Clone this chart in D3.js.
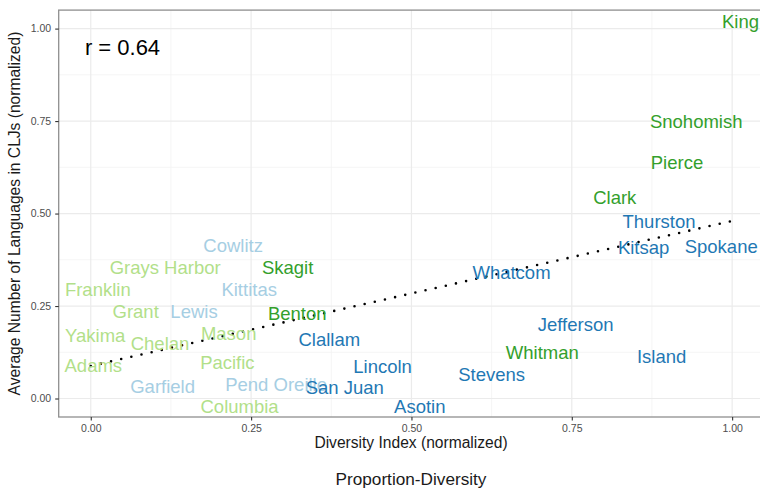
<!DOCTYPE html>
<html>
<head>
<meta charset="utf-8">
<script src="https://cdn.jsdelivr.net/npm/d3@7"></script>
<style>
  html, body { margin: 0; padding: 0; background: #ffffff; }
  svg { display: block; font-family: "Liberation Sans", Arial, sans-serif; }
</style>
</head>
<body>
<svg id="chart" width="760" height="488"></svg>
<script>
// County names, diversity index and average language count (both normalized)
const counties = ["King", "Snohomish", "Pierce", "Clark", "Thurston", "Kitsap", "Spokane",
  "Whatcom", "Cowlitz", "Grays Harbor", "Skagit", "Franklin", "Kittitas", "Grant", "Lewis",
  "Benton", "Yakima", "Mason", "Jefferson", "Clallam", "Chelan", "Whitman", "Island",
  "Adams", "Pacific", "Lincoln", "Stevens", "Garfield", "Pend Oreille", "San Juan",
  "Columbia", "Asotin"];
const diversity = [1.013, 0.944, 0.914, 0.817, 0.886, 0.862, 0.983,
  0.656, 0.222, 0.116, 0.307, 0.011, 0.247, 0.070, 0.161,
  0.322, 0.007, 0.215, 0.756, 0.372, 0.108, 0.704, 0.890,
  0.004, 0.213, 0.455, 0.625, 0.112, 0.289, 0.396,
  0.232, 0.513];
const languages = [1.019, 0.749, 0.638, 0.544, 0.478, 0.408, 0.411,
  0.342, 0.415, 0.354, 0.355, 0.296, 0.296, 0.235, 0.235,
  0.229, 0.171, 0.177, 0.201, 0.159, 0.150, 0.124, 0.115,
  0.090, 0.097, 0.088, 0.065, 0.032, 0.038, 0.029,
  -0.021, -0.022];
// Proportion-diversity class of each county
const groups = ["HH", "HH", "HH", "HH", "LH", "LH", "LH",
  "LH", "LL", "HL", "HH", "HL", "LL", "HL", "LL",
  "HH", "HL", "HL", "LH", "LH", "HL", "HH", "LH",
  "HL", "HL", "LH", "LH", "LL", "LL", "LH",
  "HL", "LH"];
const groupKeys = ["HH", "HL", "LH", "LL"];
const groupColors = ["#33a02c", "#b2df8a", "#1f78b4", "#a6cee3"];

// Linear fit: [x, y] at the two ends
const fitX = [0, 1];
const fitY = [0.088, 0.480];
const corrLabel = "r = 0.64";

const xTicks = [0, 0.25, 0.5, 0.75, 1];
const yTicks = [0, 0.25, 0.5, 0.75, 1];
const xMinor = [0.125, 0.375, 0.625, 0.875];
const yMinor = [0.125, 0.375, 0.625, 0.875];

const svg = d3.select("#chart");
const panel = { left: 58.7, top: 10.1, right: 764.2, bottom: 417 };

const x = d3.scaleLinear().domain([-0.05, 1.05]).range([panel.left, panel.right]);
const y = d3.scaleLinear().domain([-0.05, 1.05]).range([panel.bottom, panel.top]);
const color = d3.scaleOrdinal().domain(groupKeys).range(groupColors);

// Panel background
svg.append("rect")
  .attr("x", panel.left).attr("y", panel.top)
  .attr("width", panel.right - panel.left).attr("height", panel.bottom - panel.top)
  .attr("fill", "#ffffff");

// Grid lines
const grid = svg.append("g");
grid.selectAll(".vminor").data(xMinor).join("line")
  .attr("x1", d => x(d)).attr("x2", d => x(d))
  .attr("y1", panel.top).attr("y2", panel.bottom)
  .attr("stroke", "#f2f2f2").attr("stroke-width", 0.8);
grid.selectAll(".hminor").data(yMinor).join("line")
  .attr("y1", d => y(d)).attr("y2", d => y(d))
  .attr("x1", panel.left).attr("x2", panel.right)
  .attr("stroke", "#f2f2f2").attr("stroke-width", 0.8);
grid.selectAll(".vmajor").data(xTicks).join("line")
  .attr("x1", d => x(d)).attr("x2", d => x(d))
  .attr("y1", panel.top).attr("y2", panel.bottom)
  .attr("stroke", "#ebebeb").attr("stroke-width", 1.2);
grid.selectAll(".hmajor").data(yTicks).join("line")
  .attr("y1", d => y(d)).attr("y2", d => y(d))
  .attr("x1", panel.left).attr("x2", panel.right)
  .attr("stroke", "#ebebeb").attr("stroke-width", 1.2);

// Regression line (dotted)
const fitData = fitX.map((d, i) => [d, fitY[i]]);
svg.append("path")
  .datum(fitData)
  .attr("d", d3.line().x(d => x(d[0])).y(d => y(d[1])))
  .attr("fill", "none")
  .attr("stroke", "#000000")
  .attr("stroke-width", 2.6)
  .attr("stroke-linecap", "round")
  .attr("stroke-dasharray", "0 10.4");

// County labels
const fs = 18.5;
svg.append("g").selectAll("text")
  .data(counties.map((c, i) => ({ name: c, dx: diversity[i], ly: languages[i], g: groups[i] })))
  .join("text")
  .attr("x", d => x(d.dx))
  .attr("y", d => y(d.ly) + fs * 0.358)
  .attr("text-anchor", "middle")
  .attr("font-size", fs)
  .attr("fill", d => color(d.g))
  .text(d => d.name);

// Correlation annotation
svg.append("text")
  .attr("x", 122.5).attr("y", 47.5 + 22 * 0.358)
  .attr("text-anchor", "middle")
  .attr("font-size", 22)
  .attr("fill", "#000000")
  .text(corrLabel);

// Panel border
svg.append("rect")
  .attr("x", panel.left).attr("y", panel.top)
  .attr("width", panel.right - panel.left).attr("height", panel.bottom - panel.top)
  .attr("fill", "none")
  .attr("stroke", "#8f8f8f").attr("stroke-width", 1.3);

// Axes
const xAxis = d3.axisBottom(x).tickValues(xTicks).tickFormat(d3.format(".2f"))
  .tickSize(3.5).tickPadding(4);
const gx = svg.append("g").attr("transform", `translate(0,${panel.bottom})`).call(xAxis);
gx.select(".domain").remove();
gx.selectAll(".tick line").attr("stroke", "#333333").attr("stroke-width", 1.1);
gx.selectAll(".tick text").attr("fill", "#4d4d4d").attr("font-size", 10.5)
  .attr("font-family", "Liberation Sans, Arial, sans-serif");

const yAxis = d3.axisLeft(y).tickValues(yTicks).tickFormat(d3.format(".2f"))
  .tickSize(3.5).tickPadding(4);
const gy = svg.append("g").attr("transform", `translate(${panel.left},0)`).call(yAxis);
gy.select(".domain").remove();
gy.selectAll(".tick line").attr("stroke", "#333333").attr("stroke-width", 1.1);
gy.selectAll(".tick text").attr("fill", "#4d4d4d").attr("font-size", 10.5)
  .attr("font-family", "Liberation Sans, Arial, sans-serif");

// Axis titles
svg.append("text")
  .attr("x", 411).attr("y", 442 + 15.6 * 0.358)
  .attr("text-anchor", "middle")
  .attr("font-size", 15.6)
  .attr("fill", "#1a1a1a")
  .text("Diversity Index (normalized)");

svg.append("text")
  .attr("transform", `translate(${14 + 15.6 * 0.358},213.5) rotate(-90)`)
  .attr("text-anchor", "middle")
  .attr("font-size", 15.6)
  .attr("fill", "#1a1a1a")
  .text("Average Number of Languages in CLJs (normalized)");

// Legend title
svg.append("text")
  .attr("x", 411).attr("y", 479 + 17.2 * 0.358)
  .attr("text-anchor", "middle")
  .attr("font-size", 17.2)
  .attr("fill", "#1a1a1a")
  .text("Proportion-Diversity");
</script>
</body>
</html>
